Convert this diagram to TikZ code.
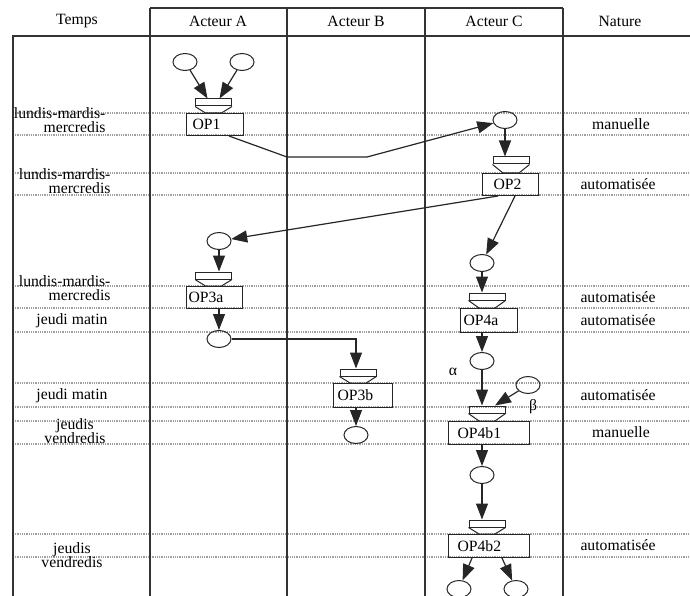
\documentclass[tikz,border=0pt]{standalone}
\usepackage{fontspec}
\setmainfont{Liberation Serif}
\usetikzlibrary{arrows.meta,shapes.geometric}

\tikzset{
	place/.style={ellipse, draw=black!85, line width=1pt, minimum width=24pt, minimum height=17pt, inner sep=0pt},
	bar/.style={rectangle, draw=black!85, line width=1pt, minimum width=36pt, minimum height=7pt, inner sep=0pt},
	opbox/.style={rectangle, draw=black!85, line width=1pt, anchor=north west, inner sep=0pt, align=left},
	arc/.style={-{Triangle[length=16pt,width=12pt]}, draw=black!85, line width=1.2pt},
	sep/.style={gray!75, dash pattern=on 1pt off 0.8pt, line width=1.3pt},
	col/.style={black!80, line width=1.6pt},
}

\begin{document}
\begin{tikzpicture}[x=1pt, y=-1pt, font=\fontsize{15.7}{14.5}\selectfont]
	\useasboundingbox (0,0) rectangle (690,596);

	% time rows
	\foreach \y in {113,135,173,195,286,308,332,383,407,421,444,534,557}
		\draw[sep] (13,\y) -- (690,\y);

	% table frame
	\draw[col] (150,8) -- (563,8);
	\draw[col] (690,36) -- (13,36) -- (13,596);
	\foreach \x in {150,287,425,563}
		\draw[col] (\x,8) -- (\x,596);

	% headers
	\node (hT) at (77,21) {Temps};
	\node (hA) at (218,21) {Acteur A};
	\node (hB) at (356,21) {Acteur B};
	\node (hC) at (494,21) {Acteur C};
	\node (hN) at (620,21) {Nature};

	% Temps column
	\node[align=right, anchor=east] (t1) at (109,120) {lundis-mardis-\\mercredis};
	\node[align=right, anchor=east] (t2) at (114,181) {lundis-mardis-\\mercredis};
	\node[align=right, anchor=east] (t3) at (114,288) {lundis-mardis-\\mercredis};
	\node (t4) at (72,321) {jeudi matin};
	\node (t5) at (72,396) {jeudi matin};
	\node[align=center] (t6) at (75,431) {jeudis\\vendredis};
	\node[align=center] (t7) at (72,555) {jeudis\\vendredis};

	% Nature column
	\node (n1) at (621,124) {manuelle};
	\node (n2) at (618,184) {automatisée};
	\node (n3) at (618,297) {automatisée};
	\node (n4) at (618,320) {automatisée};
	\node (n5) at (618,395) {automatisée};
	\node (n6) at (621,432) {manuelle};
	\node (n7) at (618,545) {automatisée};

	% places
	\node[place] (p1a) at (185,62) {};
	\node[place] (p1b) at (242,62) {};
	\node[place] (p2) at (505,120) {};
	\node[place] (p3) at (219,241) {};
	\node[place] (p4) at (482,263) {};
	\node[place] (p5) at (219,339) {};
	\node[place] (p6) at (356,435) {};
	\node[place] (pa) at (482,361) {};
	\node[place] (pb) at (528,385) {};
	\node[place] (p7) at (482,475) {};
	\node[place] (p8) at (459,589) {};
	\node[place] (p9) at (516,589) {};
	\node (la) at (453,372) {α};
	\node (lb) at (533,407) {β};

	% operations
	\node[opbox, text width=57pt, minimum height=22pt] (op1) at (186,113) {\hspace*{6pt}OP1};
	\node[opbox, text width=56pt, minimum height=22pt] (op2) at (482,173) {\hspace*{11pt}OP2};
	\node[opbox, text width=56pt, minimum height=22pt] (op3a) at (186,286) {\hspace*{2pt}OP3a};
	\node[opbox, text width=57pt, minimum height=24pt] (op4a) at (460,308) {\hspace*{3pt}OP4a};
	\node[opbox, text width=59pt, minimum height=24pt] (op3b) at (333,383) {\hspace*{4pt}OP3b};
	\node[opbox, text width=81pt, minimum height=23pt] (op4b1) at (448,421) {\hspace*{9pt}OP4b1};
	\node[opbox, text width=81pt, minimum height=23pt] (op4b2) at (448,534) {\hspace*{9pt}OP4b2};

	% synchronisation bars
	\node[bar] (b1) at (213.5,102.5) {};
	\node[bar] (b2) at (511,160.5) {};
	\node[bar] (b3) at (213.5,275.5) {};
	\node[bar] (b4) at (487,296.5) {};
	\node[bar] (b5) at (358,372.5) {};
	\node[bar] (b6) at (487,409.5) {};
	\node[bar] (b7) at (487,523.5) {};
	\foreach \b/\o in {b1/op1, b2/op2, b3/op3a, b4/op4a, b5/op3b, b6/op4b1, b7/op4b2}
		\draw[draw=black!85, line width=1pt] (\b.south west) -- ([xshift=-8pt]\b.south |- \o.north)
			-- ([xshift=8pt]\b.south |- \o.north) -- (\b.south east);

	% flows
	\draw[arc] (p1a) -- ([xshift=-6pt]b1.north);
	\draw[arc] (p1b) -- ([xshift=6pt]b1.north);
	\draw[arc] ([xshift=43pt]op1.south west) -- (287,157) -- (367,157) -- (p2);
	\draw[arc] (p2) -- (p2 |- b2.north);
	\draw[arc] ([xshift=16pt]op2.south west) -- (p3);
	\draw[arc] ([xshift=33pt]op2.south west) -- (p4);
	\draw[arc] (p3) -- (p3 |- b3.north);
	\draw[arc] (op3a.south -| p5) -- (p5);
	\draw[arc] (p5.east) -- (p5.east -| p6) -- (p6 |- b5.north);
	\draw[arc] (op3b.south -| p6) -- (p6);
	\draw[arc] (p4) -- (p4 |- b4.north);
	\draw[arc] (op4a.south -| pa) -- (pa);
	\draw[arc] (pa) -- (pa |- b6.north);
	\draw[arc] (pb) -- ([xshift=8pt]b6.north);
	\draw[arc] (op4b1.south -| p7) -- (p7);
	\draw[arc] (p7) -- (p7 |- b7.north);
	\draw[arc] ([xshift=24pt]op4b2.south west) -- (p8);
	\draw[arc] ([xshift=54pt]op4b2.south west) -- (p9);
\end{tikzpicture}
\end{document}
